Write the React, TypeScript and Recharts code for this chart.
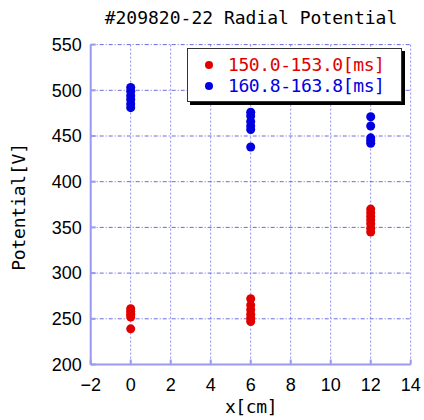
import {
  ScatterChart,
  Scatter,
  XAxis,
  YAxis,
  CartesianGrid,
  Legend,
} from "recharts";

// probe positions and potential readings
const positions = [0, 6, 12];

const early0 = [261, 258, 255, 252, 239];
const early6 = [272, 265, 260, 255, 251, 247];
const early12 = [370, 366, 362, 358, 354, 349, 345];

const late0 = [503, 499, 494, 490, 485, 481];
const late6 = [476, 472, 466, 461, 457, 438];
const late12 = [471, 461, 448, 445, 442];

const xTicks = [-2, 0, 2, 4, 6, 8, 10, 12, 14];
const yTicks = [200, 250, 300, 350, 400, 450, 500, 550];

const toPoints = (groups: number[][]) =>
  groups.flatMap((vals, i) => vals.map((v) => ({ x: positions[i], y: v })));

const earlyData = toPoints([early0, early6, early12]);
const lateData = toPoints([late0, late6, late12]);

const gothic = '"DejaVu Sans Mono", monospace';
const frame = "#9a9af0";
const noTick = () => null;

function LegendBox({ payload }: any) {
  return (
    <div
      style={{
        border: "1px solid #333",
        boxShadow: "3px 3px 0 #000",
        background: "#fff",
        padding: "5px 0 5px 17px",
        fontFamily: gothic,
        fontSize: 18,
        letterSpacing: -0.4,
        lineHeight: "21px",
      }}
    >
      {(payload || []).map((p: any) => (
        <div key={p.value} style={{ color: p.color, display: "flex", alignItems: "center" }}>
          <span
            style={{
              display: "inline-block",
              width: 8,
              height: 8,
              borderRadius: 4,
              background: p.color,
              marginRight: 15,
            }}
          />
          {p.value}
        </div>
      ))}
    </div>
  );
}

export default function App() {
  return (
    <div style={{ position: "absolute", left: 0, top: 0, width: 424, height: 420, background: "#fff" }}>
      <div
        style={{
          position: "absolute",
          left: 91,
          width: 320,
          top: 7,
          textAlign: "center",
          fontFamily: gothic,
          fontSize: 18,
          letterSpacing: 0,
        }}
      >
        #209820-22 Radial Potential
      </div>
      <div
        style={{
          position: "absolute",
          left: 91,
          width: 320,
          top: 396,
          textAlign: "center",
          fontFamily: gothic,
          fontSize: 18,
          letterSpacing: -0.4,
        }}
      >
        x[cm]
      </div>
      <div
        style={{
          position: "absolute",
          left: 18,
          top: 207,
          transform: "translate(-50%, -50%) rotate(-90deg)",
          whiteSpace: "nowrap",
          fontFamily: gothic,
          fontSize: 18,
          letterSpacing: -0.2,
        }}
      >
        Potential[V]
      </div>
      <ScatterChart
        width={424}
        height={420}
        margin={{ top: 44.6, right: 13.3, bottom: 15.5, left: 10.7 }}
      >
        <CartesianGrid horizontal={false} stroke="#8a8aee" strokeDasharray="2 2" />
        <CartesianGrid vertical={false} stroke="#6b6be0" strokeDasharray="4 2 1 2" />
        <XAxis
          type="number"
          dataKey="x"
          domain={[-2, 14]}
          ticks={xTicks}
          tickFormatter={(v: number) => (v < 0 ? `\u2212${-v}` : `${v}`)}
          height={40}
          stroke={frame}
          strokeWidth={2}
          tickSize={-5}
          tickMargin={19}
          tick={{ fill: "#000", fontSize: 18, fontFamily: "Liberation Sans" }}
        />
        <XAxis
          xAxisId="top"
          orientation="top"
          type="number"
          dataKey="x"
          domain={[-2, 14]}
          ticks={xTicks}
          height={0}
          stroke={frame}
          strokeWidth={2}
          tickSize={5}
          tick={noTick}
        />
        <YAxis
          type="number"
          dataKey="y"
          domain={[200, 550]}
          ticks={yTicks}
          width={80}
          stroke={frame}
          strokeWidth={2}
          tickSize={-5}
          tickMargin={14}
          tick={{ fill: "#000", fontSize: 18, fontFamily: "Liberation Sans" }}
        />
        <YAxis
          yAxisId="right"
          orientation="right"
          type="number"
          dataKey="y"
          domain={[200, 550]}
          ticks={yTicks}
          width={0}
          stroke={frame}
          strokeWidth={2}
          tickSize={-5}
          tick={noTick}
        />
        <Legend
          layout="vertical"
          align="center"
          verticalAlign="middle"
          content={<LegendBox />}
          wrapperStyle={{ left: 187, top: 48, width: 215 }}
        />
        <Scatter name="150.0-153.0[ms]" data={earlyData} fill="#e00000" isAnimationActive={false} />
        <Scatter name="160.8-163.8[ms]" data={lateData} fill="#0000e0" isAnimationActive={false} />
      </ScatterChart>
    </div>
  );
}
